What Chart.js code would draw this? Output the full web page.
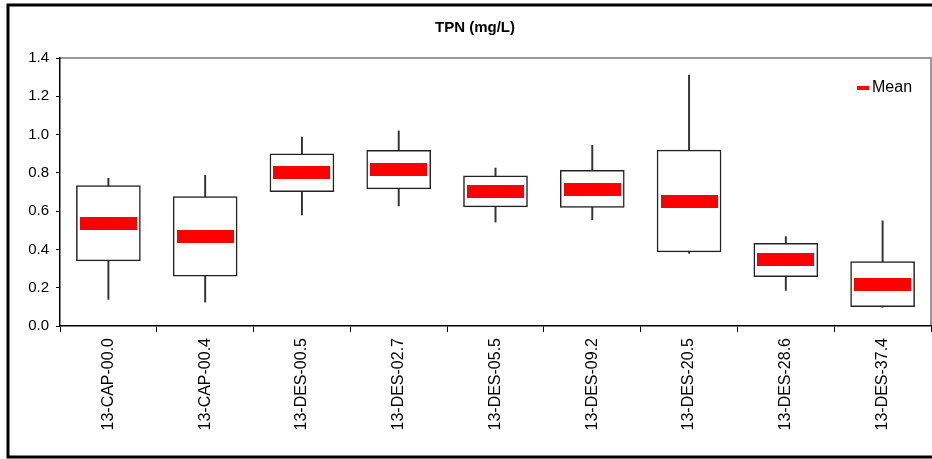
<!DOCTYPE html>
<html>
<head>
<meta charset="utf-8">
<script src="https://cdn.jsdelivr.net/npm/chart.js@4/dist/chart.umd.min.js"></script>
<style>
  html, body { margin: 0; padding: 0; background: #fff; }
  #wrap { width: 932px; height: 459px; }
</style>
</head>
<body>
<div id="wrap"><canvas id="tpnChart" width="932" height="459"></canvas></div>
<script>
// Data
const sites = ['13-CAP-00.0', '13-CAP-00.4', '13-DES-00.5', '13-DES-02.7', '13-DES-05.5',
               '13-DES-09.2', '13-DES-20.5', '13-DES-28.6', '13-DES-37.4'];
const mins  = [0.139, 0.125, 0.580, 0.627, 0.543, 0.555, 0.380, 0.186, 0.098];
const q1s   = [0.340, 0.260, 0.702, 0.716, 0.622, 0.620, 0.387, 0.258, 0.101];
const q3s   = [0.733, 0.676, 0.900, 0.918, 0.785, 0.813, 0.919, 0.432, 0.336];
const maxs  = [0.772, 0.787, 0.987, 1.019, 0.825, 0.944, 1.311, 0.467, 0.549];
const means = [0.535, 0.468, 0.802, 0.816, 0.704, 0.715, 0.652, 0.346, 0.218];
const yTicks = [0, 0.2, 0.4, 0.6, 0.8, 1.0, 1.2, 1.4];

const FONT = "'Liberation Sans', Arial, sans-serif";
const TITLE = 'TPN (mg/L)';

// red bar used as the mean marker
const meanMark = document.createElement('canvas');
meanMark.width = 57;
meanMark.height = 13;
const mctx = meanMark.getContext('2d');
mctx.fillStyle = '#ff0000';
mctx.fillRect(0, 0, 57, 13);

// outer frame, grey plot frame (top/right), title and the "Mean" legend
const framePlugin = {
  id: 'frames',
  beforeDraw(chart) {
    const ctx = chart.ctx;
    const a = chart.chartArea;
    ctx.save();
    ctx.fillStyle = '#fff';
    ctx.fillRect(0, 0, chart.width, chart.height);
    ctx.strokeStyle = '#000';
    ctx.lineWidth = 3;
    ctx.strokeRect(8, 5, chart.width + 20, 452);
    ctx.strokeStyle = '#999';
    ctx.lineWidth = 2;
    ctx.beginPath();
    ctx.moveTo(a.left, a.top);
    ctx.lineTo(a.right, a.top);
    ctx.lineTo(a.right, a.bottom);
    ctx.stroke();

    ctx.fillStyle = '#000';
    ctx.font = 'bold 15px ' + FONT;
    ctx.textAlign = 'center';
    ctx.textBaseline = 'middle';
    ctx.fillText(TITLE, 475, 28);
    ctx.restore();
  },
  afterDraw(chart) {
    const ctx = chart.ctx;
    const a = chart.chartArea;
    const ds = chart.data.datasets[0];
    ctx.save();
    ctx.fillStyle = ds.backgroundColor;
    ctx.fillRect(a.right - 74, 86, 12, 4);
    ctx.fillStyle = '#000';
    ctx.font = '16px ' + FONT;
    ctx.textAlign = 'left';
    ctx.textBaseline = 'middle';
    ctx.fillText(ds.label, a.right - 59, 88);
    ctx.restore();
  }
};

const ctxTpn = document.getElementById('tpnChart').getContext('2d');

const tpnChart = new Chart(ctxTpn, {
  type: 'bar',
  data: {
    labels: sites,
    datasets: [{
      type: 'line',
      label: 'Mean',
      data: means,
      showLine: false,
      pointStyle: meanMark,
      pointRadius: 6,
      backgroundColor: '#ff0000',
      borderColor: '#ff0000',
      borderWidth: 0,
      order: 1
    }, {
      label: 'box',
      data: q1s.map((q, i) => [q, q3s[i]]),
      backgroundColor: '#fff',
      borderColor: '#222',
      borderWidth: 1.5,
      borderSkipped: false,
      barThickness: 64,
      grouped: false,
      order: 2
    }, {
      label: 'whisker',
      data: mins.map((m, i) => [m, maxs[i]]),
      backgroundColor: '#333',
      borderWidth: 0,
      barThickness: 1.3,
      grouped: false,
      order: 3
    }]
  },
  options: {
    responsive: false,
    devicePixelRatio: 1,
    animation: false,
    layout: { autoPadding: false, padding: { left: 0, right: 1, top: 58, bottom: 0 } },
    plugins: {
      title: { display: false },
      legend: { display: false },
      tooltip: { enabled: false }
    },
    scales: {
      x: {
        offset: true,
        grid: { offset: true, drawOnChartArea: false, color: '#000', tickLength: 6 },
        border: { color: '#000', width: 1.5 },
        ticks: {
          color: '#000',
          minRotation: 90,
          maxRotation: 90,
          padding: 6,
          font: { family: FONT, size: 16 }
        },
        afterFit: (scale) => { scale.height = 133; }
      },
      y: {
        min: 0,
        max: 1.4,
        afterBuildTicks: (scale) => { scale.ticks = yTicks.map(v => ({ value: v })); },
        grid: { drawOnChartArea: false, color: '#000', tickLength: 4 },
        border: { color: '#000', width: 1.5 },
        ticks: {
          color: '#000',
          padding: 7,
          font: { family: FONT, size: 15 },
          callback: (v) => Number(v).toFixed(1)
        },
        afterFit: (scale) => { scale.width = 60; }
      }
    }
  },
  plugins: [framePlugin]
});
</script>
</body>
</html>
